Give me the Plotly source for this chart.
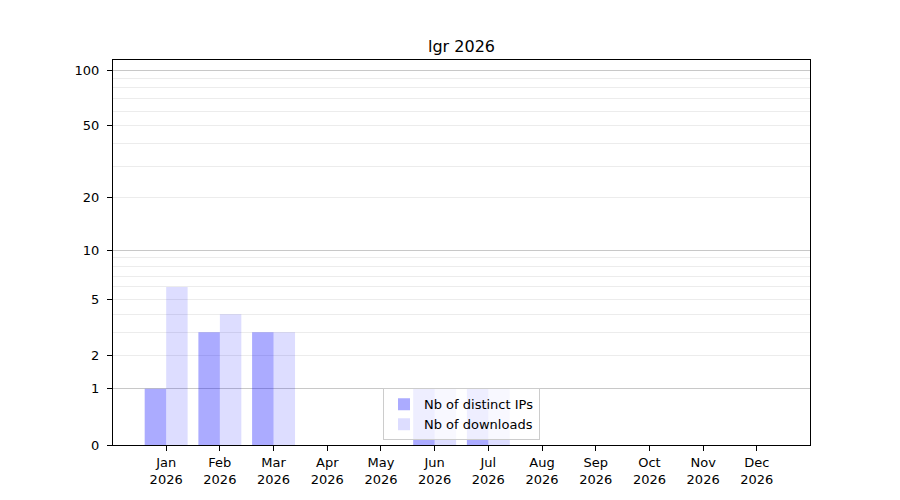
import numpy as np
import plotly.graph_objects as go


#
# data
#

months    = ["Jan", "Feb", "Mar", "Apr", "May", "Jun",
             "Jul", "Aug", "Sep", "Oct", "Nov", "Dec"]
year      = 2026
ips       = [1, 3, 3, 0, 0, 1, 1, 0, 0, 0, 0, 0]
downloads = [6, 4, 3, 0, 0, 1, 1, 0, 0, 0, 0, 0]

major_ticks = [0, 1, 2, 5, 10, 20, 50, 100]
major_grid  = [1, 10, 100]
minor_grid  = [2, 3, 4, 5, 6, 7, 8, 9, 20, 30, 40, 50, 60, 70, 80, 90]


#
# the y axis is log(1 + n): plot on a log axis shifted by one
#
def shift(values):
    return [v + 1 for v in values]


x = list(range(len(months)))
labels = [f"{m}<br>{year}" for m in months]

fig = go.Figure()

fig.add_bar(
        x      = x,
        y      = shift(ips),
        name   = "Nb of distinct IPs",
        marker = dict(color="rgba(0,0,255,0.33)", line=dict(width=0)),
    )
fig.add_bar(
        x      = x,
        y      = shift(downloads),
        name   = "Nb of downloads",
        marker = dict(color="rgba(0,0,255,0.135)", line=dict(width=0)),
    )

# invisible helper trace so the overlay axis with the darker grid exists
fig.add_scatter(x=[x[0]], y=[1], yaxis="y2", mode="markers",
                marker=dict(opacity=0), showlegend=False, hoverinfo="skip")

yrange = [0, 2.058]

# page body has an 8px margin, so the figure is drawn a bit smaller
fig.update_layout(
        width  = 884,
        height = 484,
        paper_bgcolor = "white",
        plot_bgcolor  = "white",
        margin = dict(l=105, r=82, t=52, b=47),
        font   = dict(family="DejaVu Sans", size=13, color="black"),
        title  = dict(text="lgr 2026", x=0.5, xref="paper", xanchor="center",
                      y=0.921, yanchor="middle", font=dict(size=16)),
        barmode     = "group",
        bargap      = 0.2,
        bargroupgap = 0,
        showlegend  = True,
        legend = dict(
            x=0.5, xanchor="center", y=0.012, yanchor="bottom",
            bgcolor="rgba(255,255,255,0.8)", bordercolor="#cccccc",
            borderwidth=1, font=dict(size=13),
            tracegroupgap=0, itemwidth=30,
        ),
        xaxis = dict(
            range=[-0.99, 11.99], tickvals=x, ticktext=labels,
            showgrid=False, zeroline=False, automargin=False,
            showline=True, mirror=True, linecolor="black", linewidth=1,
            ticks="outside", ticklen=5, tickcolor="black",
        ),
        yaxis = dict(
            type="log", range=yrange, automargin=False,
            tickvals=shift(major_ticks), ticktext=[str(t) for t in major_ticks],
            showgrid=False, zeroline=False,
            showline=True, mirror=True, linecolor="black", linewidth=1,
            ticks="outside", ticklen=5, tickcolor="black",
            ticklabelstandoff=5,
            minor=dict(tickvals=shift(minor_grid), showgrid=True,
                       gridcolor="#ececec", gridwidth=0.8, ticks=""),
        ),
        yaxis2 = dict(
            type="log", range=yrange, overlaying="y", automargin=False,
            tickvals=shift(major_grid), showticklabels=False, ticks="",
            showgrid=True, gridcolor="#c8c8c8", gridwidth=0.8,
            zeroline=False, showline=False,
        ),
    )

fig.write_html("out.html")
